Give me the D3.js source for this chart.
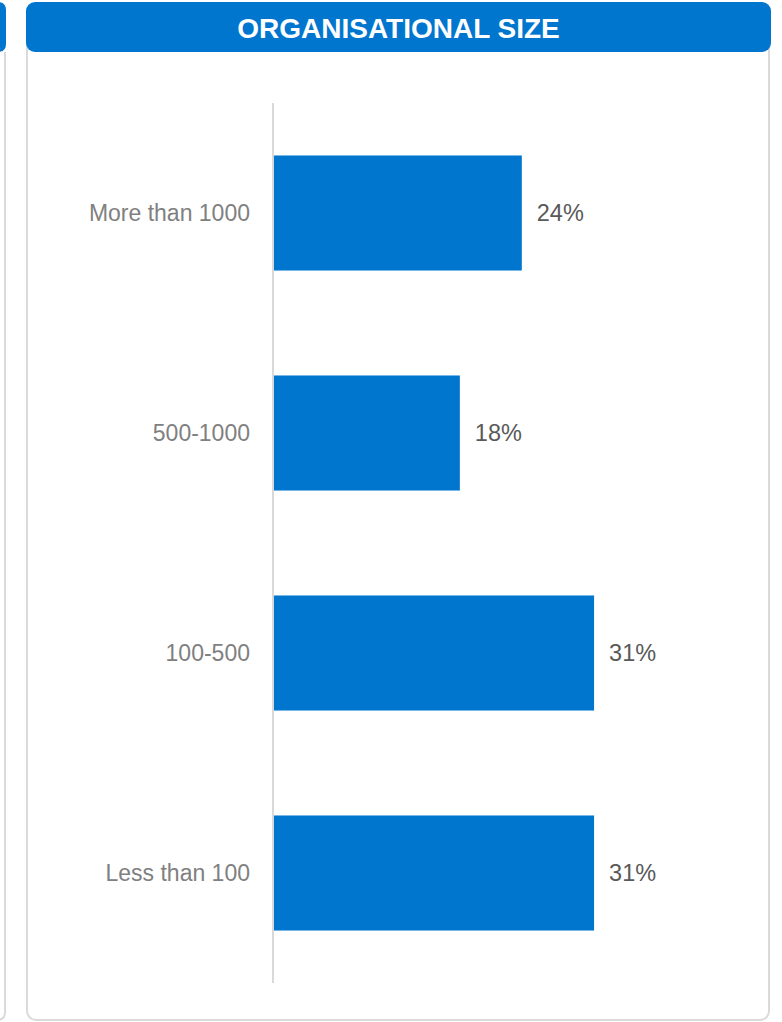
<!DOCTYPE html>
<html>
<head>
<meta charset="utf-8">
<script src="https://cdn.jsdelivr.net/npm/d3@7"></script>
<style>
  html, body { margin: 0; padding: 0; background: #ffffff; }
  svg { display: block; }
</style>
</head>
<body>
<svg id="chart" width="782" height="1022"></svg>
<script>
// Survey breakdown by organisational size (share of respondents, %)
const title = "ORGANISATIONAL SIZE";
const categories = ["More than 1000", "500-1000", "100-500", "Less than 100"];
const shares = [24, 18, 31, 31];

const blue = "#0076CE";
const frame = "#dadada";
const fontFamily = "'Liberation Sans', Arial, sans-serif";

const svg = d3.select("#chart");

// Neighbouring panel edge on the left
svg.append("path")
  .attr("d", "M -20 2 H -2 Q 6 2 6 10 V 44 Q 6 52 -2 52 H -20 Z")
  .attr("fill", blue);
svg.append("path")
  .attr("d", "M 5 52 V 1012 Q 5 1020 -3 1020")
  .attr("fill", "none").attr("stroke", frame).attr("stroke-width", 2);

// Panel frame
svg.append("rect")
  .attr("x", 27).attr("y", 20).attr("width", 742).attr("height", 1000)
  .attr("rx", 9)
  .attr("fill", "#ffffff").attr("stroke", frame).attr("stroke-width", 2);

// Header bar
svg.append("rect")
  .attr("x", 26).attr("y", 2).attr("width", 745).attr("height", 50)
  .attr("rx", 9)
  .attr("fill", blue);
svg.append("text")
  .attr("x", 398.5).attr("y", 28)
  .attr("text-anchor", "middle").attr("dominant-baseline", "central")
  .attr("font-family", fontFamily)
  .attr("font-weight", "bold").attr("font-size", 28)
  .attr("fill", "#ffffff")
  .text(title);

// Scales
const y = d3.scaleBand()
  .domain(categories)
  .range([103, 983])
  .paddingInner(0.477)
  .paddingOuter(0.2385);

const x = d3.scaleLinear()
  .domain([0, 40])
  .range([274, 274 + 413]);

// Category axis line
svg.append("line")
  .attr("x1", 273).attr("x2", 273)
  .attr("y1", 103).attr("y2", 983)
  .attr("stroke", "#d9d9d9").attr("stroke-width", 2);

// Bars
svg.append("g").selectAll("rect")
  .data(categories)
  .join("rect")
  .attr("x", x(0))
  .attr("y", d => y(d))
  .attr("width", (d, i) => x(shares[i]) - x(0))
  .attr("height", y.bandwidth())
  .attr("fill", blue);

// Category labels
svg.append("g").selectAll("text")
  .data(categories)
  .join("text")
  .attr("x", 250)
  .attr("y", d => y(d) + y.bandwidth() / 2)
  .attr("text-anchor", "end").attr("dominant-baseline", "central")
  .attr("font-family", fontFamily)
  .attr("font-size", 23)
  .attr("fill", "#808080")
  .text(d => d);

// Value labels
svg.append("g").selectAll("text")
  .data(categories)
  .join("text")
  .attr("x", (d, i) => x(shares[i]) + 15)
  .attr("y", d => y(d) + y.bandwidth() / 2)
  .attr("dominant-baseline", "central")
  .attr("font-family", fontFamily)
  .attr("font-size", 23.5)
  .attr("fill", "#595959")
  .text((d, i) => shares[i] + "%");
</script>
</body>
</html>
